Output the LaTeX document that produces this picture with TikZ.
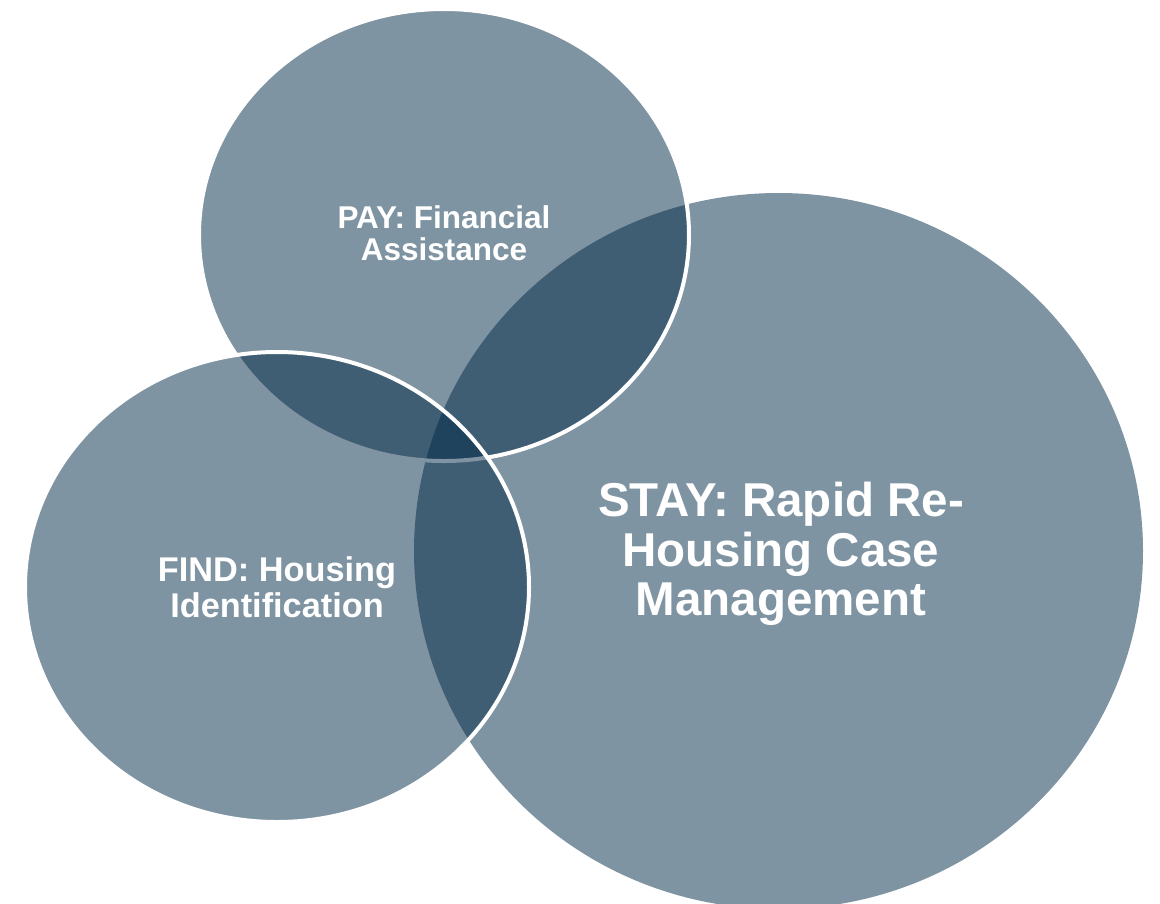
\documentclass[tikz,border=0pt]{standalone}
\usepackage{fontspec}
\setmainfont{Liberation Sans}
\definecolor{venn}{RGB}{0,41,71}
\begin{document}
\begin{tikzpicture}[x=1pt,y=-1pt,
  circ/.style={fill=venn, fill opacity=0.5},
  rim/.style={draw=white, draw opacity=1, line width=4pt},
  lbl/.style={text=white, text opacity=1, font=\bfseries, align=center, inner sep=0pt}]
\useasboundingbox (0,0) rectangle (1160,903);
% STAY (bottom layer, no visible rim)
\path[circ] (778.5,551) ellipse [x radius=364.5, y radius=358];
% PAY
\path[circ, rim] (444,235) ellipse [x radius=245, y radius=226];
% FIND (top layer)
\path[circ, rim] (277,587) ellipse [x radius=252, y radius=235];
\node[lbl, font=\bfseries\fontsize{31.5}{32}\selectfont] (pay) at (444,233) {PAY: Financial\\Assistance};
\node[lbl, font=\bfseries\fontsize{34.3}{36}\selectfont] (find) at (277,587) {FIND: Housing\\Identification};
\node[lbl, font=\bfseries\fontsize{47.5}{49.4}\selectfont] (stay) at (781,554) {STAY: Rapid Re-\\Housing Case\\Management};
\end{tikzpicture}
\end{document}
